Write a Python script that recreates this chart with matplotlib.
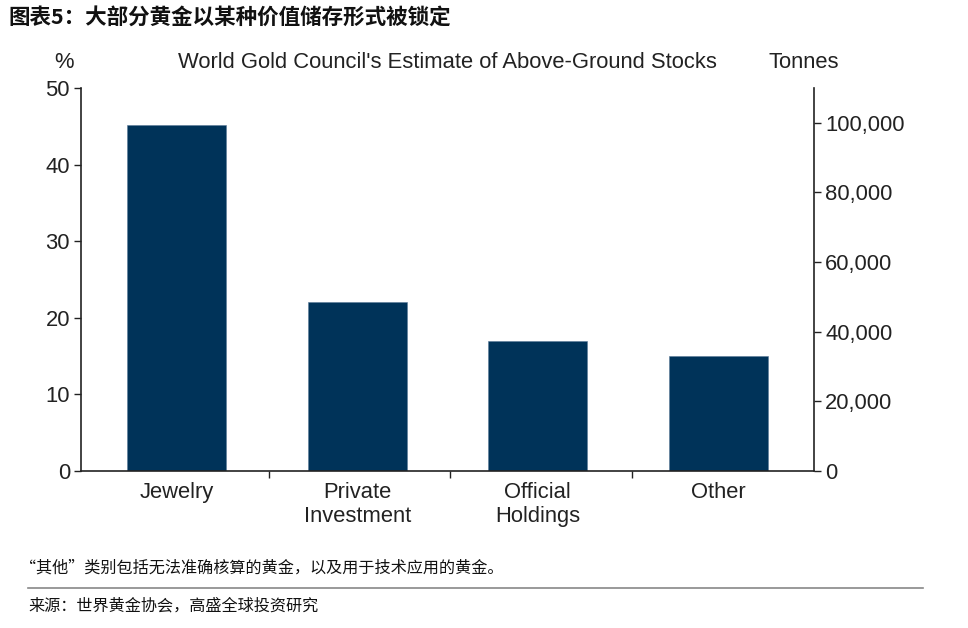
import matplotlib
matplotlib.use("Agg")
import matplotlib.pyplot as plt
from matplotlib.ticker import FuncFormatter, FixedLocator

categories = ["Jewelry", "Private\nInvestment", "Official\nHoldings", "Other"]
share_pct = [45.2, 22.0, 17.0, 15.0]
left_ticks = [0, 10, 20, 30, 40, 50]
right_ticks = [0, 20000, 40000, 60000, 80000, 100000]

title_cn = "图表5：大部分黄金以某种价值储存形式被锁定"
chart_title = "World Gold Council's Estimate of Above-Ground Stocks"
note_cn = "“其他”类别包括无法准确核算的黄金，以及用于技术应用的黄金。"
source_cn = "来源：世界黄金协会，高盛全球投资研究"

plt.rcParams['font.family'] = ['Liberation Sans', 'DejaVu Sans']
fig = plt.figure(figsize=(9.68, 6.28), dpi=100)
ax = fig.add_axes([81/968, 1-471/628, (814-81)/968, (471-88)/628])

FS = 15.8
bar_color = "#003359"
x = list(range(len(categories)))
ax.bar(x, share_pct, width=0.55, color=bar_color, edgecolor="#5a7a99", linewidth=0.4, zorder=2)
ax.set_xlim(-0.53, len(categories) - 0.47)
ax.set_ylim(0, 50)
ax.set_yticks(left_ticks)
ax.tick_params(axis='y', labelsize=FS, length=5, width=1, direction='out', pad=3, colors='#222222')
ax.set_xticks(x)
ax.set_xticklabels(categories, fontsize=FS, color='#222222', linespacing=1.15)
ax.tick_params(axis='x', length=0, pad=8)
ax.xaxis.set_minor_locator(FixedLocator([0.51, 1.515, 2.52]))
ax.tick_params(axis='x', which='minor', length=5, width=1, direction='out', colors='#222222')
for s in ['top', 'right']:
    ax.spines[s].set_visible(False)
for s in ['left', 'bottom']:
    ax.spines[s].set_linewidth(1.2)
    ax.spines[s].set_color('#222222')

ax2 = ax.twinx()
ax2.set_ylim(0, 110000)
ax2.set_yticks(right_ticks)
ax2.yaxis.set_major_formatter(FuncFormatter(lambda v, p: f"{int(v):,}"))
ax2.tick_params(axis='y', labelsize=FS, length=5, width=1, direction='out', pad=3, colors='#222222')
for s in ['top', 'left', 'bottom']:
    ax2.spines[s].set_visible(False)
ax2.spines['right'].set_linewidth(1.2)
ax2.spines['right'].set_color('#222222')

fig.text(64/968, 1-63/628, "%", fontsize=FS, ha='center', va='center', color='#222222')
fig.text(447/968, 1-63/628, chart_title, fontsize=FS, ha='center', va='center', color='#222222')
fig.text(804/968, 1-63/628, "Tonnes", fontsize=FS, ha='center', va='center', color='#222222')

fig.text(8/968, 1-17/628, title_cn, fontsize=15.5, fontweight='bold', ha='left', va='center',
         family=['Noto Sans CJK SC', 'DejaVu Sans'], color='#111111')
fig.text(20/968, 1-568/628, note_cn, fontsize=11.6, ha='left', va='center',
         family=['Noto Sans CJK SC', 'DejaVu Sans'], color='#111111')
fig.add_artist(plt.Line2D([28/968, 923/968], [1-588/628, 1-588/628], color='#888888', linewidth=1.2))
fig.text(28/968, 1-606/628, source_cn, fontsize=11.6, ha='left', va='center',
         family=['Noto Sans CJK SC', 'DejaVu Sans'], color='#111111')

fig.savefig("out.png", dpi=100, facecolor='white')
